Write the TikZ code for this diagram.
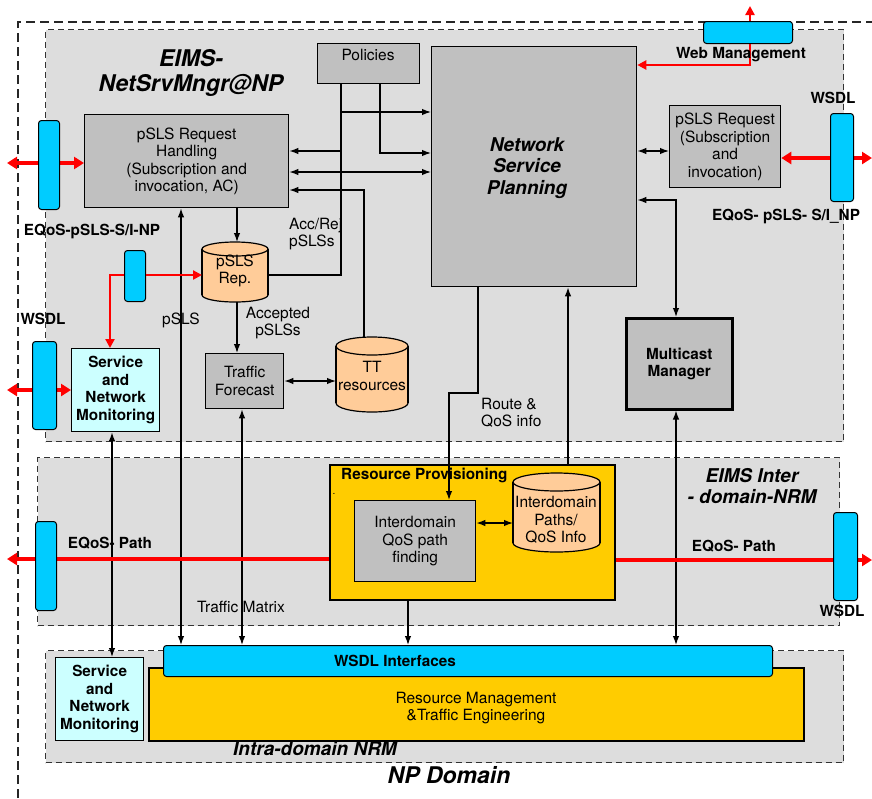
\documentclass[tikz,border=0pt]{standalone}
\usepackage{fontspec}
\setmainfont{TeX Gyre Heros}
\usetikzlibrary{arrows.meta}
\definecolor{regiongray}{HTML}{DDDDDD}
\definecolor{boxgray}{HTML}{C0C0C0}
\definecolor{ifblue}{HTML}{00CCFF}
\definecolor{lightcyan}{HTML}{CCFFFF}
\definecolor{provyellow}{HTML}{FFCC00}
\definecolor{peach}{HTML}{FFCC99}
\newcommand{\dgnorm}{\fontsize{15.5}{17.5}\selectfont}
\newcommand{\dgbold}{\fontsize{15.3}{17.5}\selectfont\bfseries}
\newcommand{\dgtitle}{\fontsize{23}{25}\selectfont\bfseries\itshape}
\newcommand{\dgsub}{\fontsize{19}{20.5}\selectfont\bfseries\itshape}
% cylinder: name, x1, y1, x2, y2, ry
\newcommand{\dgcyl}[6]{%
  \fill[peach] (#2,#3+#6) rectangle (#4,#5-#6);
  \fill[peach] ({(#2+#4)/2},#5-#6) ellipse ({(#4-#2)/2} and #6);
  \draw[line width=1.2pt] (#2,#3+#6) -- (#2,#5-#6) (#4,#3+#6) -- (#4,#5-#6);
  \begin{scope}
    \clip (#2-3,#5-#6) rectangle (#4+3,#5+3);
    \draw[line width=1.2pt] ({(#2+#4)/2},#5-#6) ellipse ({(#4-#2)/2} and #6);
  \end{scope}
  \draw[fill=peach, line width=1.2pt] ({(#2+#4)/2},#3+#6) ellipse ({(#4-#2)/2} and #6);
  \node[anchor=north west, inner sep=0pt, minimum width={#4-#2}, minimum height={#5-#3}] (#1) at (#2,#3) {};
}
\tikzset{
  region/.style={draw=black!80, fill=regiongray, line width=1.2pt, dash pattern=on 6pt off 4pt, anchor=north west, inner sep=0pt},
  gbox/.style={draw=black, fill=boxgray, line width=1.3pt, anchor=north west, inner sep=0pt, align=center, font=\dgnorm},
  cbox/.style={draw=black, fill=lightcyan, line width=1.3pt, anchor=north west, inner sep=0pt, align=center, font=\dgbold},
  ybox/.style={draw=black, fill=provyellow, line width=2pt, anchor=north west, inner sep=0pt, align=center, font=\dgnorm},
  ifbox/.style={draw=black, fill=ifblue, line width=1pt, rounded corners=3pt, anchor=north west, inner sep=0pt},
  conn/.style={draw=black, line width=1.3pt, >={Latex[length=9pt,width=6.5pt]}},
  redthick/.style={draw=red, line width=4pt, >={Triangle[length=10pt,width=12pt]}},
  redthin/.style={draw=red, line width=2.2pt, >={Triangle[length=9pt,width=9pt]}},
  lbl/.style={font=\dgnorm, align=center, inner sep=0pt},
  blbl/.style={font=\dgbold, align=center, inner sep=0pt},
}
\begin{document}
\begin{tikzpicture}[x=1pt,y=-1pt]
\useasboundingbox (0,0) rectangle (872,798);
% NP domain
\coordinate (dA) at (18,798);
\coordinate (dB) at (18,22);
\coordinate (dC) at (872,22);
\draw[black!85, line width=1.2pt, dash pattern=on 9pt off 5pt] (dA) -- (dB) -- (dC);
% regions
\node[region, minimum width=798pt, minimum height=412pt] (r1) at (45,29) {};
\node[region, minimum width=802pt, minimum height=168pt] (r2) at (37,457) {};
\node[region, minimum width=798pt, minimum height=112pt] (r3) at (45,650) {};
% boxes
\node[gbox, minimum width=102pt, minimum height=40pt] (pol) at (317,43) {};
\node[lbl] (polt) at (368,55) {Policies};
\node[gbox, minimum width=205pt, minimum height=240pt] (nsp) at (431,46) {};
\node[font=\fontsize{19}{21.5}\selectfont\bfseries\itshape, align=center, inner sep=0pt] (nspt) at (527,168) {Network\\Service\\Planning};
\node[gbox, minimum width=204pt, minimum height=93pt] (rh) at (84,114) {pSLS Request\\Handling\\(Subscription and\\invocation, AC)};
\node[gbox, minimum width=111pt, minimum height=82pt] (pr) at (669,105) {pSLS Request\\(Subscription\\and\\invocation)};
\node[cbox, minimum width=88pt, minimum height=83pt] (snm) at (71,348) {Service\\and\\Network\\Monitoring};
\node[gbox, minimum width=78pt, minimum height=55pt] (tf) at (205,353) {Traffic\\Forecast};
\node[gbox, line width=2.5pt, minimum width=106pt, minimum height=91pt, font=\dgbold] (mm) at (625,317) {Multicast\\Manager};
\dgcyl{rep}{202}{242}{268}{302}{7}
\node[lbl] (rept) at (235,271) {pSLS\\Rep.};
\dgcyl{tt}{336}{337}{408}{412}{9}
\node[lbl] (ttt) at (372,376) {TT\\resources};
% resource provisioning
\node[ybox, minimum width=285pt, minimum height=135pt] (rp) at (329,464) {};
\node[blbl, anchor=west] (rpt) at (341,475) {Resource Provisioning};
\node[inner sep=0pt, font=\fontsize{10}{10}\selectfont] (dot) at (334,494) {.};
\node[gbox, minimum width=121pt, minimum height=81pt] (iq) at (354,500) {Interdomain\\QoS path\\finding};
\dgcyl{idc}{513}{473}{600}{552}{9}
\node[lbl] (idct) at (556,520) {Interdomain\\Paths/\\QoS Info};
% intra-domain
\node[ybox, minimum width=655pt, minimum height=73pt] (rmte) at (148,667) {};
\node[lbl] (rmtet) at (476,708) {Resource Management\\\&Traffic Engineering};
\node[ifbox, minimum width=609pt, minimum height=31pt] (wi) at (163,645) {};
\node[blbl] (wit) at (395,661) {WSDL Interfaces};
\node[cbox, minimum width=88pt, minimum height=83pt] (snm2) at (55,657) {Service\\and\\Network\\Monitoring};
% ---- black connectors ----
\draw[conn, ->] (rh.south -| 237,0) -- (rep.north -| 237,0);
\draw[conn, <->] (rh.south -| 181,0) -- (wi.north -| 181,0);
\draw[conn, ->] (rep.east |- 0,275) -- (341,275) -- (341,112) -- (nsp.west |- 0,112);
\draw[conn, ->] (pol.south -| 341,0) -- (341,151) -- (rh.east |- 0,151);
\draw[conn, ->] (pol.south -| 380,0) -- (380,153) -- (nsp.west |- 0,153);
\draw[conn, <->] (rh.east |- 0,172) -- (nsp.west |- 0,172);
\draw[conn, ->] (tt.north -| 364,0) -- (364,190) -- (rh.east |- 0,190);
\draw[conn, ->] (rep.south -| 237,0) -- (tf.north -| 237,0);
\draw[conn, <->] (tf.east |- 0,381) -- (tt.west |- 0,381);
\draw[conn, <->] (tf.south -| 242,0) -- (wi.north -| 242,0);
\draw[conn, ->] (nsp.south -| 478,0) -- (478,393) -- (449,393) -- (iq.north -| 449,0);
\draw[conn, ->] (rp.north -| 568,0) -- (nsp.south -| 568,0);
\draw[conn, <->] (nsp.east |- 0,200) -- (676,200) -- (mm.north -| 676,0);
\draw[conn, <->] (nsp.east |- 0,151) -- (pr.west |- 0,151);
\draw[conn, <->] (mm.south -| 676,0) -- (wi.north -| 676,0);
\draw[conn, <->] (iq.east |- 0,523) -- (idc.west |- 0,523);
\draw[conn, ->] (rp.south -| 408,0) -- (wi.north -| 408,0);
\draw[conn, <->] (snm.south -| 112,0) -- (snm2.north -| 112,0);
% ---- red connectors ----
\coordinate (e1) at (7,163);
\coordinate (e2) at (7,390);
\coordinate (e3) at (872,158);
\coordinate (e4) at (750,6);
\coordinate (e5) at (7,559);
\coordinate (e6) at (872,560);
\draw[redthick, <->] (e1) -- (rh.west |- e1);
\draw[redthick, <->] (e2) -- (snm.west |- e2);
\draw[redthick, <->] (e3) -- (pr.east |- e3);
\draw[redthick, ->] (rp.west |- e5) -- (e5);
\draw[redthick, ->] (rp.east |- e6) -- (e6);
% blue interface boxes
\node[ifbox, minimum width=21pt, minimum height=51pt] (ws) at (124,250) {};
\draw[redthin, ->] (ws.east |- 0,275) -- (rep.west |- 0,275);
\draw[redthin, ->] (ws.west |- 0,275) -- (110,275) -- (snm.north -| 110,0);
\node[ifbox, minimum width=89pt, minimum height=22pt] (wm) at (703,21) {};
\draw[redthin, ->] (wm.north -| 750,0) -- (e4);
\draw[redthin, ->] (wm.south -| 750,0) -- (750,65) -- (nsp.east |- 0,65);
\node[ifbox, minimum width=21pt, minimum height=89pt] (wl1) at (38,120) {};
\node[ifbox, minimum width=24pt, minimum height=88pt] (wl2) at (32,341) {};
\node[ifbox, minimum width=23pt, minimum height=88pt] (wr) at (830,113) {};
\node[ifbox, minimum width=21pt, minimum height=89pt] (we1) at (35,521) {};
\node[ifbox, minimum width=24pt, minimum height=88pt] (we2) at (833,512) {};
% ---- labels ----
\node[font=\dgtitle, align=center, inner sep=0pt] (t1) at (191,73) {EIMS-\\NetSrvMngr@NP};
\node[font=\dgsub, align=center, inner sep=0pt] (t2) at (752,486) {EIMS Inter\\- domain-NRM};
\node[font=\dgsub, inner sep=0pt] (t3) at (315,749) {Intra-domain NRM};
\node[font=\dgtitle, inner sep=0pt] (t4) at (449,775) {NP Domain};
\node[blbl] (l1) at (92,231) {EQoS-pSLS-S/I-NP};
\node[blbl] (l2) at (43,319) {WSDL};
\node[blbl] (l3) at (741,55) {Web Management};
\node[blbl] (l4) at (833,98) {WSDL};
\node[blbl] (l5) at (786,216) {EQoS- pSLS- S/I\_NP};
\node[blbl] (l6) at (110,543) {EQoS- Path};
\node[blbl] (l7) at (734,546) {EQoS- Path};
\node[blbl] (l8) at (842,611) {WSDL};
\node[lbl] (l9) at (181,320) {pSLS};
\node[lbl, anchor=west, align=left] (l10) at (289,234) {Acc/Rej\\pSLSs};
\node[lbl] (l11) at (278,323) {Accepted\\pSLSs};
\node[lbl, anchor=west, align=left] (l12) at (481,413) {Route \&\\QoS info};
\node[lbl] (l13) at (241,607) {Traffic Matrix};
\end{tikzpicture}
\end{document}
